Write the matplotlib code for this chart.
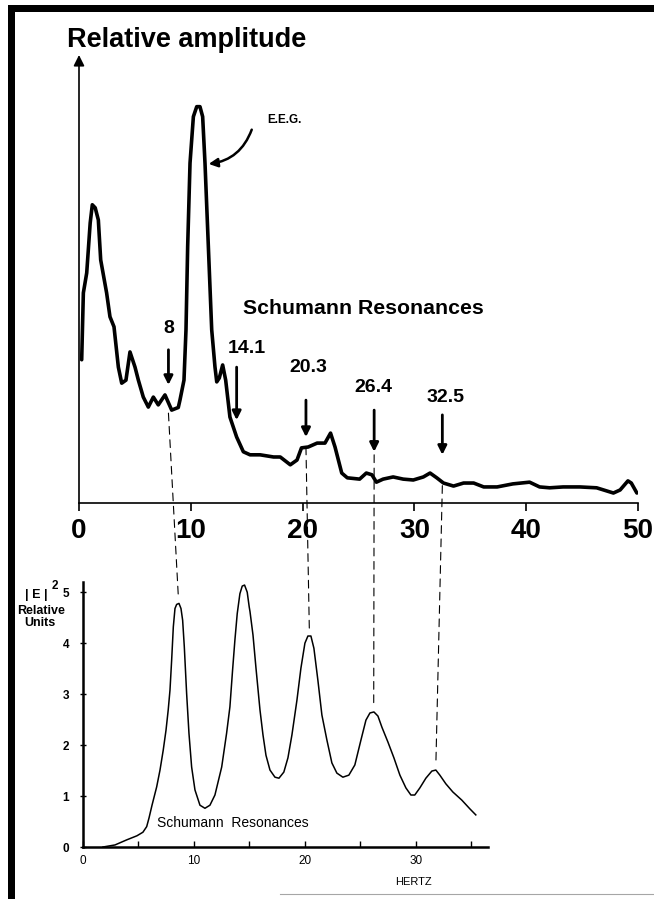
import matplotlib.pyplot as plt
from matplotlib.patches import ConnectionPatch, Rectangle
from matplotlib.lines import Line2D

plt.rcParams['font.family'] = ['Liberation Sans', 'DejaVu Sans']

# EEG spectrum, upper panel (Hz, relative amplitude 0-100)
eeg_hz = [0.24, 0.39, 0.69, 1.0, 1.19, 1.45, 1.73, 1.94, 2.47, 2.77, 3.13, 3.52,
          3.82, 4.20, 4.56, 5.01, 5.31, 5.75, 6.20, 6.65, 7.09, 7.69, 8.29, 8.88,
          9.03, 9.39, 9.57, 9.72, 9.93, 10.23, 10.53, 10.82, 11.06, 11.27, 11.57,
          11.87, 12.16, 12.32, 12.55, 12.85, 13.12, 13.5, 14.1, 14.7, 15.3, 16.2,
          17.4, 18.0, 18.9, 19.5, 19.9, 20.5, 21.3, 22.0, 22.5, 22.9, 23.5, 24.0,
          25.1, 25.7, 26.2, 26.6, 27.2, 28.1, 29.0, 29.9, 30.8, 31.4, 32.0, 32.6,
          33.5, 34.4, 35.3, 36.2, 37.4, 38.8, 40.3, 41.2, 42.1, 43.3, 44.8, 46.3,
          47.8, 48.4, 49.1, 49.4, 49.9]
eeg_amp = [33.0, 48.4, 53.0, 64.5, 68.7, 68.0, 65.2, 56.0, 48.4, 42.9, 40.6, 31.3,
           27.6, 28.3, 34.8, 31.3, 28.3, 24.4, 22.1, 24.4, 22.6, 24.9, 21.4, 22.0,
           23.7, 28.3, 39.9, 59.1, 78.3, 89.0, 91.3, 91.3, 89.0, 78.3, 59.1,
           39.9, 31.4, 27.9, 28.8, 31.8, 28.3, 19.8, 15.2, 11.8, 11.1, 11.1,
           10.6, 10.6, 8.8, 9.9, 12.7, 12.9, 13.8, 13.8, 16.1, 12.9, 6.9, 5.8,
           5.5, 6.9, 6.5, 4.8, 5.5, 6.0, 5.5, 5.3, 6.0, 6.9, 5.8, 4.6,
           3.9, 4.6, 4.6, 3.7, 3.7, 4.4, 4.8, 3.7, 3.5, 3.7, 3.7, 3.5,
           2.3, 3.0, 5.1, 4.6, 2.3]

# Schumann resonance spectrum, lower panel (Hz, |E|^2 relative units)
sr_hz = [1.8, 2.88, 3.94, 4.86, 5.4, 5.74, 5.95, 6.22, 6.64, 6.94, 7.23, 7.48,
         7.68, 7.84, 7.99, 8.14, 8.29, 8.44, 8.65, 8.83, 8.98, 9.13, 9.34, 9.55,
         9.79, 10.09, 10.54, 10.99, 11.44, 11.89, 12.5, 12.94, 13.24, 13.48, 13.69,
         13.9, 14.14, 14.35, 14.56, 14.8, 14.98, 15.05, 15.32, 15.59, 15.95, 16.22,
         16.49, 16.85, 17.3, 17.66, 18.1, 18.47, 18.83, 19.28, 19.64, 20.0, 20.27,
         20.54, 20.81, 21.17, 21.53, 21.98, 22.43, 22.88, 23.42, 23.96, 24.5, 25.05,
         25.5, 25.86, 26.22, 26.58, 26.94, 27.48, 28.02, 28.56, 29.1, 29.55, 29.9,
         30.36, 30.9, 31.44, 31.8, 32.16, 32.7, 33.33, 34.14, 34.86, 35.4]
sr_power = [0.0, 0.04, 0.14, 0.22, 0.29, 0.40, 0.57, 0.82, 1.18, 1.51, 1.90, 2.29,
            2.69, 3.08, 3.67, 4.32, 4.68, 4.76, 4.78, 4.68, 4.45, 3.93, 3.01, 2.23,
            1.57, 1.12, 0.82, 0.76, 0.82, 1.02, 1.57, 2.23, 2.75, 3.47, 4.06,
            4.58, 4.97, 5.12, 5.14, 5.00, 4.71, 4.62, 4.16, 3.51, 2.69, 2.20,
            1.80, 1.51, 1.37, 1.35, 1.47, 1.75, 2.20, 2.88, 3.51, 4.00, 4.14,
            4.14, 3.90, 3.27, 2.59, 2.10, 1.65, 1.45, 1.37, 1.41, 1.61, 2.10,
            2.49, 2.63, 2.65, 2.57, 2.35, 2.06, 1.75, 1.41, 1.16, 1.02, 1.02,
            1.16, 1.35, 1.49, 1.51, 1.41, 1.24, 1.08, 0.92, 0.75, 0.63]

# marked resonance frequencies and the lower-curve peaks they line up with
sr_labels = ['8', '14.1', '20.3', '26.4', '32.5']
sr_freqs = [8.0, 14.1, 20.3, 26.4, 32.5]
peak_hz = [8.6, 14.5, 20.4, 26.2, 31.8]
peak_power = [4.78, 5.14, 4.14, 2.65, 1.51]

top_ticks = [0, 10, 20, 30, 40, 50]
low_ticks = [0, 10, 20, 30]
low_minor = [5, 15, 25, 35]
low_yticks = [0, 1, 2, 3, 4, 5]

# arrow / label placement in the upper panel (amplitude units)
arrow_top = [35.3, 31.3, 23.7, 21.4, 20.3]
arrow_tip = [27.2, 19.1, 15.2, 11.8, 11.1]
label_dx = [0.0, 0.9, 0.2, -0.1, 0.3]
label_y = [40.3, 35.7, 31.3, 26.5, 24.4]
guide_start = [20.7, 18.4, 12.9, 11.1, 4.0]

W, H = 654, 899
fig = plt.figure(figsize=(W / 100, H / 100), dpi=100)

# scanned page edges
fig.add_artist(Rectangle((8 / W, 0), 7 / W, (H - 5) / H, transform=fig.transFigure,
                         color='k', lw=0))
fig.add_artist(Rectangle((8 / W, 1 - 12 / H), (W - 8) / W, 7 / H,
                         transform=fig.transFigure, color='k', lw=0))
fig.add_artist(Line2D([280 / W, 1], [1 - 894 / H, 1 - 894 / H],
                      transform=fig.transFigure, color='0.65', lw=0.8))

# upper panel: EEG
ax1 = fig.add_axes([79 / W, (H - 503) / H, (638 - 79) / W, (503 - 55) / H])
ax1.plot(eeg_hz, eeg_amp, color='k', lw=2.6, solid_joinstyle='round',
         solid_capstyle='round')
ax1.set_xlim(0, 50)
ax1.set_ylim(0, 103.2)
for s in ['top', 'right', 'left']:
    ax1.spines[s].set_visible(False)
ax1.spines['bottom'].set_linewidth(1.2)
ax1.set_yticks([])
ax1.set_xticks(top_ticks)
ax1.tick_params(axis='x', direction='out', length=6, width=1.2, pad=5, labelsize=20)
for t in ax1.get_xticklabels():
    t.set_fontweight('bold')
ax1.annotate('', xy=(0, 1), xycoords='axes fraction', xytext=(0, 0),
             arrowprops=dict(arrowstyle='-|>', color='k', lw=1.2,
                             mutation_scale=16, shrinkA=0, shrinkB=0))

fig.text(67 / W, 1 - 47 / H, 'Relative amplitude', fontsize=19.5, fontweight='bold',
         va='baseline', ha='left')

ax1.text(18.4, 88.2, 'E.E.G.', fontsize=8.5, fontweight='bold', ha='center',
         va='center')
ax1.annotate('', xy=(11.6, 78.1), xytext=(15.45, 86.0),
             arrowprops=dict(arrowstyle='-|>', color='k', lw=1.8, mutation_scale=13,
                             connectionstyle='arc3,rad=-0.3', shrinkA=0, shrinkB=0))

ax1.text(14.7, 44.7, 'Schumann Resonances', fontsize=15.3, fontweight='bold',
         ha='left', va='center')

for lab, f, y0, y1, dx, ly in zip(sr_labels, sr_freqs, arrow_top, arrow_tip,
                                  label_dx, label_y):
    ax1.annotate('', xy=(f, y1), xytext=(f, y0),
                 arrowprops=dict(arrowstyle='-|>', color='k', lw=2,
                                 mutation_scale=13, shrinkA=0, shrinkB=0))
    ax1.text(f + dx, ly, lab, fontsize=14, fontweight='bold', ha='center',
             va='center')

# lower panel: Schumann resonances
ax2 = fig.add_axes([83 / W, (H - 847) / H, 405 / W, 265 / H])
ax2.plot(sr_hz, sr_power, color='k', lw=1.1, solid_joinstyle='round')
ax2.set_xlim(0, 36.5)
ax2.set_ylim(0, 5.2)
for s in ['top', 'right']:
    ax2.spines[s].set_visible(False)
ax2.spines['left'].set_linewidth(1.8)
ax2.spines['bottom'].set_linewidth(1.8)
ax2.set_xticks(low_ticks)
ax2.set_xticks(low_minor, minor=True)
ax2.set_yticks(low_yticks)
ax2.tick_params(axis='x', which='both', direction='in', length=4, width=1, pad=6,
                labelsize=8.5)
ax2.tick_params(axis='y', direction='inout', length=4, width=1, pad=8,
                labelsize=8.5)
for t in ax2.get_yticklabels():
    t.set_fontweight('bold')

ax2.text(0.183, 0.09, 'Schumann  Resonances', transform=ax2.transAxes, fontsize=10,
         ha='left', va='center')
ax2.text(0.817, -0.132, 'HERTZ', transform=ax2.transAxes, fontsize=8, ha='center',
         va='center')
ax2.text(-0.115, 0.95, '| E |', transform=ax2.transAxes, fontsize=9,
         fontweight='bold', ha='center', va='center')
ax2.text(-0.07, 0.985, '2', transform=ax2.transAxes, fontsize=8.5,
         fontweight='bold', ha='center', va='center')
ax2.text(-0.103, 0.89, 'Relative', transform=ax2.transAxes, fontsize=9,
         fontweight='bold', ha='center', va='center')
ax2.text(-0.107, 0.845, 'Units', transform=ax2.transAxes, fontsize=9,
         fontweight='bold', ha='center', va='center')

# dashed guides from the EEG arrows down to the resonance peaks
for f, ys, px, py in zip(sr_freqs, guide_start, peak_hz, peak_power):
    con = ConnectionPatch(xyA=(f, ys), coordsA='data', axesA=ax1,
                          xyB=(px, py + 0.1), coordsB='data', axesB=ax2,
                          color='k', lw=0.8, linestyle=(0, (7, 5)))
    fig.add_artist(con)

fig.savefig('out.png', dpi=100)
